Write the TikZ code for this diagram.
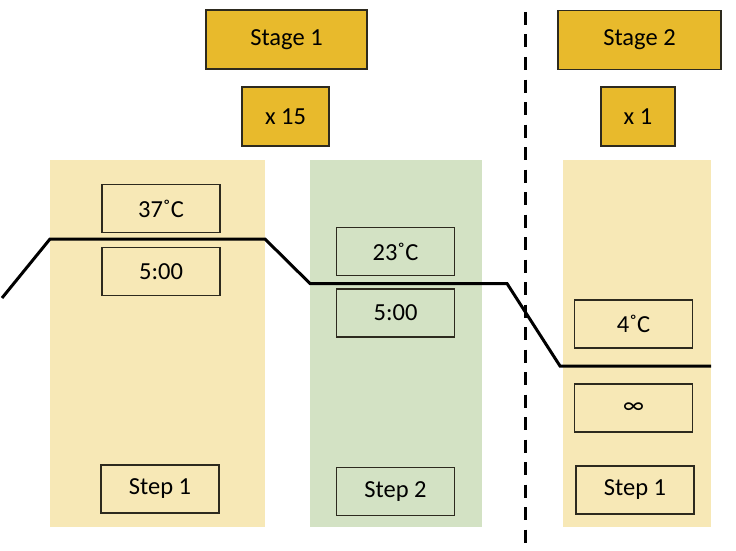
\documentclass[tikz,border=0pt]{standalone}
\usepackage{fontspec}
\setmainfont{Carlito}
\usepackage{xcolor}
\usepackage{tikz}
\usetikzlibrary{positioning}
\definecolor{stagegold}{RGB}{232,186,44}
\definecolor{paleyellow}{RGB}{247,232,182}
\definecolor{palegreen}{RGB}{211,226,196}
\definecolor{boxline}{RGB}{45,42,30}

\begin{document}
\begin{tikzpicture}[x=1pt, y=-1pt,
	every node/.style={inner sep=0pt, font=\fontsize{24.5}{28}\selectfont},
	stagebox/.style={draw=boxline, fill=stagegold, line width=1.2pt, minimum height=59pt},
	panel/.style={minimum height=367pt},
	timebox/.style={draw=boxline, line width=1.1pt, minimum width=118pt, minimum height=48pt},
	profile/.style={line width=3pt, line join=miter}]
			\useasboundingbox (0,0) rectangle (736,551);
			% background panels
			\node[panel, fill=paleyellow, minimum width=215pt] (p1) at (157.5,343) {};
			\node[panel, fill=palegreen, minimum width=172pt] (p2) at (396,343.5) {};
			\node[panel, fill=paleyellow, minimum width=148pt] (p3) at (637,343.5) {};
			% stages
			\node[stagebox, minimum width=161pt] (stage1) at (286.5,39.5) {Stage 1};
			\node[stagebox, minimum width=87pt] (rep1) at (285.5,116.5) {x 15};
			\node[stagebox, minimum width=163pt] (stage2) at (639.5,40) {Stage 2};
			\node[stagebox, minimum width=74pt] (rep2) at (638,116.5) {x 1};
			% step boxes
			\foreach \name/\x/\y/\txt in {t1/161/208.5/37˚C, d1/161/271.5/5:00, s1/160/489/Step 1,
				t2/395.5/251.5/23˚C, d2/395.5/313/5:00, s2/395.5/491.5/Step 2,
				t3/633.5/324/4˚C, d3/633.5/408/∞, s3/635/490/Step 1}
			{
				\node[timebox] (\name) at (\x,\y) {\txt};
			}
			% temperature profile
			\coordinate (start) at (2,298);
			\coordinate (up1) at (50,239);
			\coordinate (dn1) at (265,239);
			\coordinate (up2) at (310,283.5);
			\coordinate (dn2) at (507,283.5);
			\coordinate (up3) at (560,366);
			\coordinate (stop) at (711,366);
			\draw[profile] (start) -- (up1) -- (dn1) -- (up2) -- (dn2) -- (up3) -- (stop);
			% stage divider
			\coordinate (divtop) at (525,12);
			\coordinate (divbot) at (525,545);
			\draw[line width=3pt, dash pattern=on 13pt off 9.5pt] (divtop) -- (divbot);
		\end{tikzpicture}
\end{document}
